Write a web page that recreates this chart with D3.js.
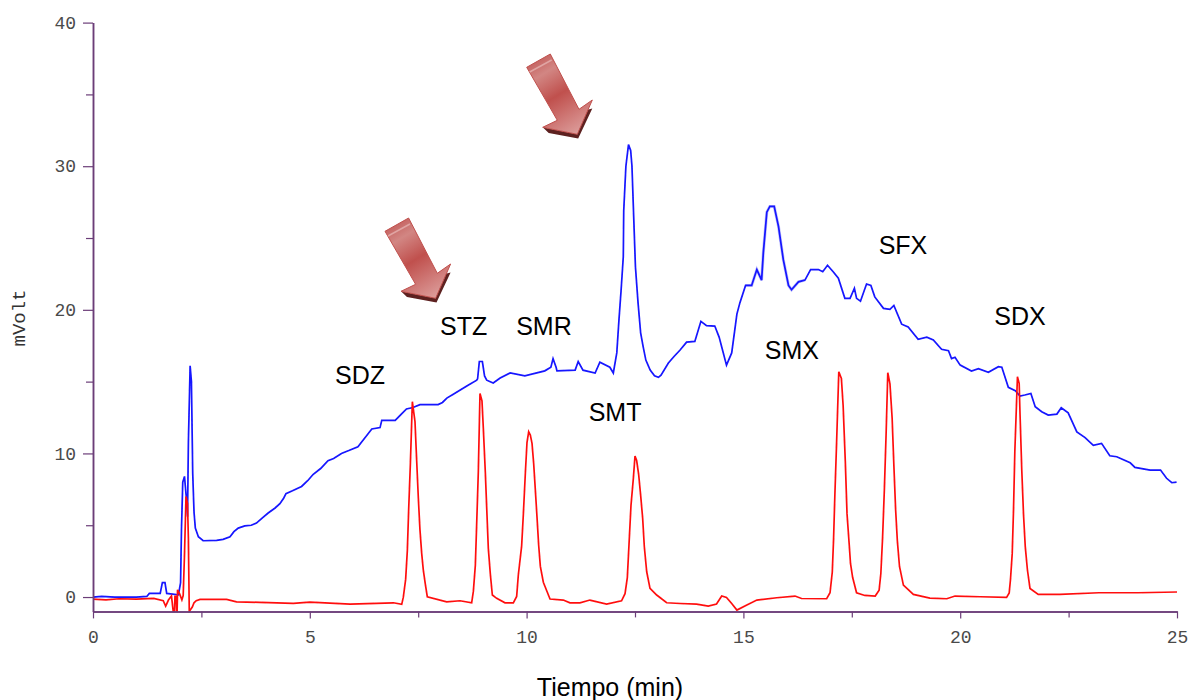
<!DOCTYPE html>
<html>
<head>
<meta charset="utf-8">
<script src="https://cdn.jsdelivr.net/npm/d3@7"></script>
<style>
  body { margin: 0; background: #fff; }
  .tick-text { font-family: "Liberation Mono", monospace; font-size: 18px; fill: #4a4a4a; }
  .anno { font-family: "Liberation Sans", Arial, sans-serif; font-size: 25px; fill: #000; }
</style>
</head>
<body>
<div id="chart"></div>
<script>
// blue trace (sample), minutes / mV
const blueTime = [0, 0.2, 0.5, 1.0, 1.24, 1.3, 1.55, 1.6, 1.66, 1.7, 1.97, 2.02, 2.04, 2.07, 2.11, 2.15, 2.18, 2.2, 2.24, 2.27, 2.3, 2.33, 2.36, 2.43, 2.54, 2.85, 3.0, 3.16, 3.25, 3.35, 3.5, 3.65, 3.77, 3.9, 4.04, 4.2, 4.31, 4.4, 4.45, 4.6, 4.81, 4.95, 5.08, 5.25, 5.42, 5.55, 5.73, 5.9, 6.11, 6.25, 6.43, 6.62, 6.66, 6.73, 6.97, 7.1, 7.23, 7.38, 7.54, 7.96, 8.06, 8.16, 8.3, 8.46, 8.65, 8.85, 8.87, 8.91, 8.98, 9.03, 9.08, 9.23, 9.39, 9.62, 9.96, 10.42, 10.56, 10.61, 10.68, 10.7, 11.12, 11.19, 11.3, 11.58, 11.69, 11.92, 12.0, 12.08, 12.13, 12.18, 12.23, 12.24, 12.29, 12.35, 12.4, 12.43, 12.48, 12.51, 12.57, 12.63, 12.69, 12.75, 12.85, 12.95, 13.04, 13.1, 13.27, 13.4, 13.54, 13.69, 13.88, 14.02, 14.15, 14.34, 14.44, 14.61, 14.73, 14.85, 14.92, 15.05, 15.19, 15.31, 15.42, 15.46, 15.54, 15.61, 15.71, 15.81, 15.92, 16.04, 16.11, 16.27, 16.42, 16.55, 16.73, 16.83, 16.94, 17.07, 17.19, 17.34, 17.46, 17.56, 17.61, 17.7, 17.84, 17.94, 18.03, 18.23, 18.38, 18.47, 18.65, 18.8, 19.03, 19.23, 19.38, 19.57, 19.73, 19.8, 19.88, 20.0, 20.26, 20.42, 20.65, 20.88, 20.96, 21.11, 21.27, 21.38, 21.49, 21.63, 21.73, 21.88, 22.03, 22.23, 22.33, 22.49, 22.69, 22.88, 23.07, 23.26, 23.45, 23.61, 23.92, 24.03, 24.38, 24.62, 24.76, 24.88, 24.99];
const blueSignal = [0, 0.05, 0, 0, 0.04, 0.25, 0.25, 1.0, 1.0, 0.25, 0.15, 1.0, 4.67, 8.0, 8.4, 7.0, 5.6, 10.8, 16.1, 15.0, 8.6, 5.9, 4.8, 4.2, 3.92, 3.95, 4.02, 4.2, 4.55, 4.8, 4.95, 5.0, 5.15, 5.5, 5.85, 6.2, 6.5, 6.9, 7.2, 7.4, 7.7, 8.1, 8.55, 8.95, 9.5, 9.65, 10.0, 10.2, 10.47, 11.0, 11.7, 11.8, 12.3, 12.3, 12.3, 12.7, 13.1, 13.2, 13.4, 13.4, 13.55, 13.85, 14.1, 14.4, 14.75, 15.1, 15.2, 16.4, 16.4, 15.4, 15.1, 14.9, 15.25, 15.6, 15.4, 15.75, 16.0, 16.6, 16.0, 15.75, 15.8, 16.4, 15.8, 15.6, 16.35, 16.0, 15.6, 17.0, 19.3, 21.4, 23.7, 26.9, 30.0, 31.5, 31.1, 30.0, 25.6, 23.0, 20.5, 18.4, 17.4, 16.5, 15.8, 15.4, 15.3, 15.45, 16.3, 16.75, 17.2, 17.75, 17.8, 19.2, 18.9, 18.87, 18.1, 16.15, 17.0, 19.7, 20.5, 21.7, 21.7, 22.8, 22.07, 24.0, 26.8, 27.2, 27.2, 25.8, 23.5, 21.7, 21.4, 21.95, 22.07, 22.8, 22.8, 22.65, 23.1, 22.65, 22.2, 20.8, 20.8, 21.5, 20.8, 20.6, 21.8, 21.7, 20.9, 20.1, 20.03, 20.3, 19.0, 18.8, 17.95, 18.1, 17.9, 17.25, 17.15, 16.6, 16.7, 16.15, 15.74, 15.9, 15.65, 16.04, 16.0, 14.6, 14.37, 14.0, 14.07, 14.18, 13.25, 12.9, 12.67, 12.74, 13.18, 12.83, 11.5, 11.1, 10.56, 10.7, 9.84, 9.77, 9.35, 9.03, 8.84, 8.84, 8.27, 7.96, 8.0];

// red trace (standards)
const redTime = [0, 0.3, 0.6, 1.0, 1.4, 1.62, 1.676, 1.74, 1.81, 1.85, 1.88, 1.89, 1.92, 1.93, 1.94, 1.95, 2.0, 2.05, 2.08, 2.11, 2.145, 2.18, 2.2, 2.22, 2.29, 2.33, 2.38, 2.47, 3.08, 3.31, 3.85, 4.62, 5.0, 5.93, 6.93, 7.12, 7.157, 7.211, 7.249, 7.28, 7.319, 7.365, 7.426, 7.465, 7.503, 7.54, 7.58, 7.618, 7.665, 7.71, 8.156, 8.464, 8.733, 8.772, 8.818, 8.848, 8.887, 8.925, 8.971, 9.002, 9.048, 9.087, 9.117, 9.164, 9.21, 9.31, 9.502, 9.694, 9.771, 9.809, 9.886, 9.925, 9.971, 10.009, 10.048, 10.086, 10.125, 10.163, 10.201, 10.24, 10.278, 10.317, 10.386, 10.54, 10.847, 11.0, 11.23, 11.46, 11.846, 12.19, 12.27, 12.323, 12.362, 12.408, 12.462, 12.5, 12.538, 12.584, 12.63, 12.677, 12.715, 12.77, 12.846, 13.0, 13.23, 13.54, 13.92, 14.19, 14.38, 14.5, 14.61, 14.73, 14.85, 15.08, 15.31, 15.77, 16.19, 16.34, 16.92, 16.998, 17.05, 17.08, 17.11, 17.15, 17.2, 17.26, 17.3, 17.35, 17.39, 17.44, 17.47, 17.52, 17.61, 17.8, 18.04, 18.13, 18.17, 18.21, 18.25, 18.29, 18.33, 18.38, 18.43, 18.47, 18.51, 18.55, 18.6, 18.69, 18.92, 19.3, 19.69, 19.88, 20.46, 21.07, 21.13, 21.16, 21.2, 21.23, 21.26, 21.32, 21.36, 21.38, 21.42, 21.46, 21.5, 21.55, 21.61, 21.8, 22.3, 23.2, 24.1, 25];
const redSignal = [-0.15, -0.2, -0.12, -0.15, -0.1, -0.25, -0.63, -0.21, 0.07, -1, -1, 0.05, 0.05, -1, -1, 0.5, 0.2, -0.2, 0.4, 5.5, 7.0, 6.0, 2.1, -1, -0.7, -0.4, -0.25, -0.16, -0.16, -0.33, -0.37, -0.44, -0.35, -0.49, -0.4, -0.51, 0.49, 2.0, 4.43, 7.68, 10.82, 13.6, 10.82, 8.15, 5.64, 3.78, 2.34, 1.41, 0.37, 0.02, -0.33, -0.26, -0.4, 1.18, 3.27, 6.75, 10.8, 14.18, 13.14, 10.35, 7.03, 4.32, 2.46, 0.72, 0.14, -0.09, -0.4, -0.4, 0.49, 2.58, 4.55, 6.99, 10.24, 11.28, 11.51, 11.28, 10.12, 8.49, 6.47, 4.66, 2.58, 1.69, 0.37, -0.14, -0.21, -0.4, -0.4, -0.21, -0.49, -0.26, 0.72, 1.99, 5.36, 7.45, 9.07, 9.82, 9.19, 7.91, 6.29, 4.66, 2.34, 1.18, 0.6, 0.14, -0.4, -0.45, -0.49, -0.63, -0.49, 0.07, -0.03, -0.86, -0.91, -0.56, -0.21, -0.05, 0.07, -0.1, -0.12, 0.72, 2.76, 5.36, 8.96, 12.67, 15.69, 14.76, 11.9, 7.03, 4.55, 2.8, 1.88, 0.83, 0.3, 0.11, 0.07, 0.48, 2.8, 5.47, 9.35, 13.13, 15.62, 14.06, 10.88, 7.49, 4.78, 3.08, 1.18, 0.48, 0.18, -0.07, -0.12, 0.07, 0.02, -0.03, 0.6, 1.88, 4.2, 8.03, 12.2, 15.34, 14.88, 10.58, 7.1, 4.43, 2.62, 1.18, 0.6, 0.18, 0.18, 0.3, 0.3, 0.35];

// axes
const xMajor = [0, 5, 10, 15, 20, 25];
const xMinor = [2.5, 7.5, 12.5, 17.5, 22.5];
const yMajor = [0, 10, 20, 30, 40];
const yMinor = [5, 15, 25, 35];

// compound labels, anchored in chart units
const labelNames = ["SDZ", "STZ", "SMR", "SMT", "SMX", "SFX", "SDX"];
const labelTimes = [6.16, 8.55, 10.4, 12.04, 16.12, 18.68, 21.38];
const labelLevels = [14.8, 18.27, 18.27, 12.25, 16.6, 23.9, 18.95];

const width = 1193;
const height = 700;
const axisColor = "#6b3d78";

const x = d3.scaleLinear().domain([0, 25]).range([93, 1177]);
const y = d3.scaleLinear().domain([-1, 40]).range([611.4, 22.6]);

const svg = d3
  .select("#chart")
  .append("svg")
  .attr("width", width)
  .attr("height", height);

const defs = svg.append("defs");

const arrowGrad = defs
  .append("linearGradient")
  .attr("id", "arrow-fill")
  .attr("x1", 0.25)
  .attr("y1", 0)
  .attr("x2", 0.75)
  .attr("y2", 1);
arrowGrad.append("stop").attr("offset", "0").attr("stop-color", "#c4605e");
arrowGrad.append("stop").attr("offset", "0.2").attr("stop-color", "#d28683");
arrowGrad.append("stop").attr("offset", "0.5").attr("stop-color", "#c0504d");
arrowGrad.append("stop").attr("offset", "1").attr("stop-color", "#dc9c9a");

defs
  .append("clipPath")
  .attr("id", "plot-clip")
  .append("rect")
  .attr("x", x(0))
  .attr("y", y(40))
  .attr("width", x(25) - x(0))
  .attr("height", y(-1) - y(40) + 1);

// the reference is a resampled bitmap, so the traces are slightly soft
defs
  .append("filter")
  .attr("id", "soft")
  .append("feGaussianBlur")
  .attr("stdDeviation", 0.25);

// curves
const blueData = blueTime.map((t, i) => ({ t: t, v: blueSignal[i] }));
const redData = redTime.map((t, i) => ({ t: t, v: redSignal[i] }));

// red values are stair corners: run the line through the middle of each riser,
// leaving the peak tops and small baseline moves as they are
const risers = (data, limit) =>
  data.map((d, i) => {
    const prev = data[i - 1];
    const next = data[i + 1];
    if (!prev || !next || Math.abs(d.v - prev.v) <= limit) return d;
    const isTurn = (d.v - prev.v) * (next.v - d.v) <= 0;
    return isTurn ? d : { t: d.t, v: (d.v + prev.v) / 2 };
  });

const line = d3
  .line()
  .x((d) => x(d.t))
  .y((d) => y(d.v));

const plot = svg
  .append("g")
  .attr("clip-path", "url(#plot-clip)")
  .append("g")
  .attr("filter", "url(#soft)");

// pale halo on this stretch of the blue trace
plot
  .append("path")
  .datum(blueData.filter((d) => d.t >= 14.95 && d.t <= 16.45))
  .attr("fill", "none")
  .attr("stroke", "#c4c4fb")
  .attr("stroke-width", 3)
  .attr("d", line);

plot
  .append("path")
  .datum(blueData)
  .attr("fill", "none")
  .attr("stroke", "#1414ff")
  .attr("stroke-width", 1.7)
  .attr("d", line);

plot
  .append("path")
  .datum(risers(redData, 0.6))
  .attr("fill", "none")
  .attr("stroke", "#ff1010")
  .attr("stroke-width", 1.7)
  .attr("d", line);

// axes
const xAxis = d3
  .axisBottom(x)
  .tickValues(xMajor)
  .tickSize(7)
  .tickSizeOuter(0)
  .tickPadding(12)
  .tickFormat(d3.format("d"));
const xAxisMinor = d3
  .axisBottom(x)
  .tickValues(xMinor)
  .tickSize(6)
  .tickSizeOuter(0)
  .tickFormat("");
const yAxis = d3
  .axisLeft(y)
  .tickValues(yMajor)
  .tickSize(10)
  .tickSizeOuter(0)
  .tickPadding(7)
  .tickFormat(d3.format("d"));
const yAxisMinor = d3
  .axisLeft(y)
  .tickValues(yMinor)
  .tickSize(7)
  .tickSizeOuter(0)
  .tickFormat("");

const axisGroups = [
  svg.append("g").attr("transform", `translate(0,${y(-1)})`).call(xAxis),
  svg.append("g").attr("transform", `translate(0,${y(-1)})`).call(xAxisMinor),
  svg.append("g").attr("transform", `translate(${x(0)},0)`).call(yAxis),
  svg.append("g").attr("transform", `translate(${x(0)},0)`).call(yAxisMinor),
];

axisGroups.forEach((g) => {
  g.selectAll(".domain").attr("stroke", axisColor).attr("stroke-width", 1.5);
  g.selectAll("line").attr("stroke", axisColor).attr("stroke-width", 1.2);
  g.selectAll("text")
    .attr("class", "tick-text")
    .attr("font-family", null)
    .attr("font-size", null);
});
svg.selectAll(".tick-text").style("font-family", '"Liberation Mono", monospace').style("font-size", "18px");

// axis titles
svg
  .append("text")
  .attr("class", "anno")
  .attr("x", 610)
  .attr("y", 696)
  .attr("text-anchor", "middle")
  .text("Tiempo (min)");

svg
  .append("text")
  .attr("transform", "translate(25,318) rotate(-90)")
  .attr("text-anchor", "middle")
  .style("font-family", '"Liberation Mono", monospace')
  .style("font-size", "19px")
  .style("fill", "#333")
  .text("mVolt");

// compound labels
svg
  .selectAll(".peak-label")
  .data(labelNames)
  .join("text")
  .attr("class", "anno peak-label")
  .attr("x", (d, i) => x(labelTimes[i]))
  .attr("y", (d, i) => y(labelLevels[i]))
  .attr("text-anchor", "middle")
  .text((d) => d);

// the two clip-art arrows pointing at the unknown peaks
const arrowBody = "M0,13.3 L23.6,0 L52.3,55.3 L65.6,46 L50.6,80.3 L16,73.3 L30.6,66.3 Z";
const arrowShadow = "M52.3,58 L65.6,54.5 L51.5,84.5 L22,79 L16,73.3 L50.6,80.3 Z";

[[526.7, 54], [385, 218]].forEach((pos) => {
  const g = svg.append("g").attr("transform", `translate(${pos[0]},${pos[1]})`);
  g.append("path").attr("d", arrowShadow).attr("fill", "#5d2120");
  g.append("path")
    .attr("d", arrowBody)
    .attr("fill", "url(#arrow-fill)")
    .attr("stroke", "#c0504d")
    .attr("stroke-width", 1);
  g.append("line")
    .attr("x1", 3)
    .attr("y1", 18)
    .attr("x2", 25)
    .attr("y2", 6)
    .attr("stroke", "#e0a5a3")
    .attr("stroke-width", 1.5);
});
</script>
</body>
</html>
